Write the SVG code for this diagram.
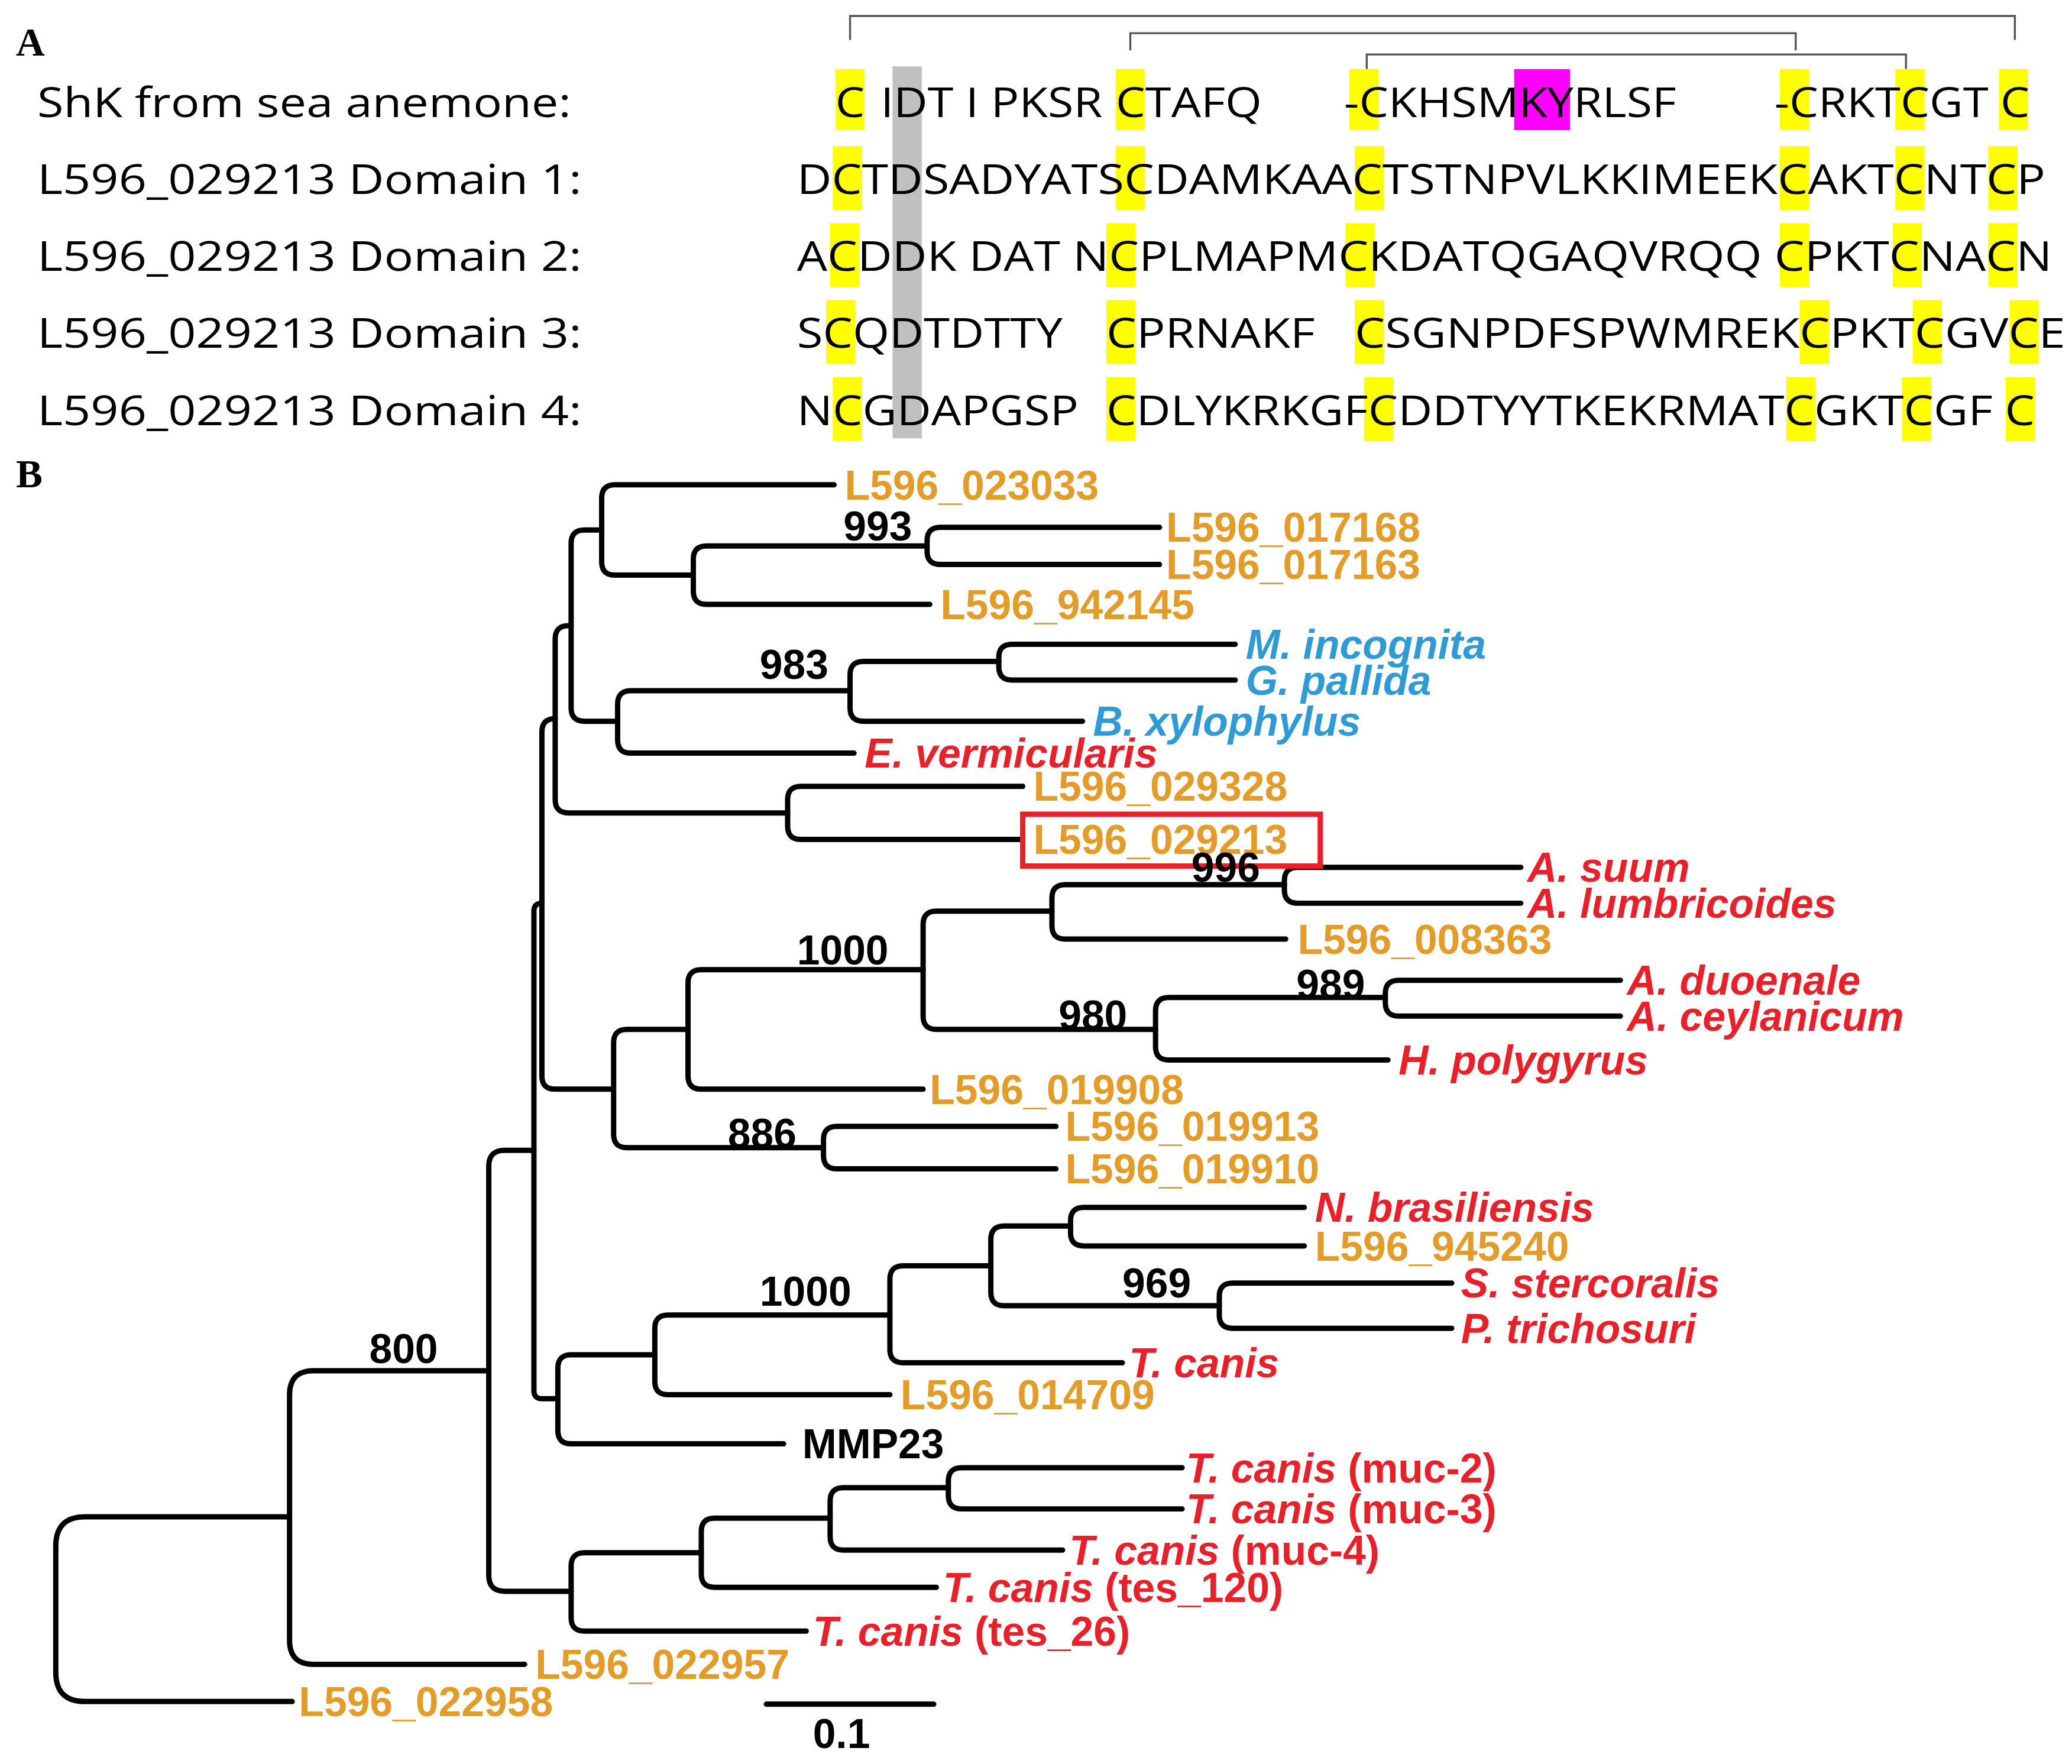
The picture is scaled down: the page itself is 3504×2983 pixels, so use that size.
<svg xmlns="http://www.w3.org/2000/svg" width="3504" height="2983" viewBox="0 0 3504 2983">
<style>
.lab{font-family:"Open Sans","Liberation Sans",sans-serif;font-size:31px;fill:#000}
.seq{font-family:"Open Sans","Liberation Sans",sans-serif;font-size:31px;fill:#000}
.pl{font-family:"Liberation Serif",serif;font-weight:bold;font-size:30px}
.t{font-family:"Liberation Sans",Arial,sans-serif;font-weight:bold;font-size:31px}
.o{fill:#E39B2A}.b{fill:#2E9BD6}.r{fill:#E8202A}.k{fill:#000}
.i{font-style:italic}
.br{fill:none;stroke:#000;stroke-width:4;stroke-linecap:round}
.y{fill:#FFFF00}
.bk{fill:none;stroke:#555;stroke-width:1.5}
</style>
<rect width="3504" height="2983" fill="#fff"/>
<g transform="scale(2.24615)">
<text class="pl" x="12" y="42">A</text>
<text class="pl" x="12" y="367">B</text>
<g id="brackets" class="bk">
<path d="M640,30 V12 H1517 V30"/>
<path d="M851,38 V25 H1352 V38"/>
<path d="M1029,52 V41 H1435 V52"/>
</g>
<g id="highlights">
<rect x="672" y="50" width="22" height="280" fill="#C0C0C0"/>
<rect x="1140" y="52" width="42" height="46" fill="#FF00FF"/>
<g class="y">
<rect x="629" y="52" width="22" height="46"/><rect x="840" y="52" width="22" height="46"/><rect x="1016" y="52" width="22" height="46"/><rect x="1340" y="52" width="22" height="46"/><rect x="1427" y="52" width="22" height="46"/><rect x="1505" y="52" width="22" height="46"/>
<rect x="627" y="110" width="22" height="48"/><rect x="840" y="110" width="22" height="48"/><rect x="1020" y="110" width="22" height="48"/><rect x="1340" y="110" width="22" height="48"/><rect x="1427" y="110" width="22" height="48"/><rect x="1497" y="110" width="22" height="48"/>
<rect x="625" y="168" width="22" height="48"/><rect x="833" y="168" width="22" height="48"/><rect x="1013" y="168" width="22" height="48"/><rect x="1340" y="168" width="22" height="48"/><rect x="1425" y="168" width="22" height="48"/><rect x="1497" y="168" width="22" height="48"/>
<rect x="622" y="226" width="22" height="48"/><rect x="833" y="226" width="22" height="48"/><rect x="1020" y="226" width="22" height="48"/><rect x="1355" y="226" width="22" height="48"/><rect x="1440" y="226" width="22" height="48"/><rect x="1513" y="226" width="22" height="48"/>
<rect x="627" y="284" width="22" height="48"/><rect x="833" y="284" width="22" height="48"/><rect x="1027" y="284" width="22" height="48"/><rect x="1345" y="284" width="22" height="48"/><rect x="1432" y="284" width="22" height="48"/><rect x="1510" y="284" width="22" height="48"/>
</g>
</g>
<g id="alignment">
<text class="lab" x="28" y="88" textLength="402" lengthAdjust="spacingAndGlyphs">ShK from sea anemone:</text>
<text class="lab" x="28" y="146" textLength="410" lengthAdjust="spacingAndGlyphs">L596_029213 Domain 1:</text>
<text class="lab" x="28" y="204" textLength="410" lengthAdjust="spacingAndGlyphs">L596_029213 Domain 2:</text>
<text class="lab" x="28" y="262" textLength="410" lengthAdjust="spacingAndGlyphs">L596_029213 Domain 3:</text>
<text class="lab" x="28" y="320" textLength="410" lengthAdjust="spacingAndGlyphs">L596_029213 Domain 4:</text>
<text class="seq" x="629" y="88" textLength="22" lengthAdjust="spacingAndGlyphs">C</text>
<text class="seq" x="663" y="88" textLength="167" lengthAdjust="spacingAndGlyphs">IDT I PKSR</text>
<text class="seq" x="840" y="88" textLength="110" lengthAdjust="spacingAndGlyphs">CTAFQ</text>
<text class="seq" x="1012" y="88" textLength="250" lengthAdjust="spacingAndGlyphs">-CKHSMKYRLSF</text>
<text class="seq" x="1336" y="88" textLength="192" lengthAdjust="spacingAndGlyphs">-CRKTCGT C</text>
<text class="seq" x="600" y="146" textLength="940" lengthAdjust="spacingAndGlyphs">DCTDSADYATSCDAMKAACTSTNPVLKKIMEEKCAKTCNTCP</text>
<text class="seq" x="600" y="204" textLength="945" lengthAdjust="spacingAndGlyphs">ACDDK DAT NCPLMAPMCKDATQGAQVRQQ CPKTCNACN</text>
<text class="seq" x="600" y="262" textLength="200" lengthAdjust="spacingAndGlyphs">SCQDTDTTY</text>
<text class="seq" x="833" y="262" textLength="157" lengthAdjust="spacingAndGlyphs">CPRNAKF</text>
<text class="seq" x="1020" y="262" textLength="535" lengthAdjust="spacingAndGlyphs">CSGNPDFSPWMREKCPKTCGVCE</text>
<text class="seq" x="600" y="320" textLength="212" lengthAdjust="spacingAndGlyphs">NCGDAPGSP</text>
<text class="seq" x="833" y="320" textLength="699" lengthAdjust="spacingAndGlyphs">CDLYKRKGFCDDTYYTKEKRMATCGKTCGF C</text>
</g>
<g id="connectors" class="br">
<path d="M873,397 H708 Q698,397 698,407 V415 Q698,425 708,425 H873"/>
<path d="M698,411 H532 Q522,411 522,421 V445 Q522,455 532,455 H700"/>
<path d="M628,365 H463 Q453,365 453,375 V423 Q453,433 463,433 H522"/>
<path d="M930,485 H762 Q752,485 752,495 V502 Q752,512 762,512 H930"/>
<path d="M752,498 H650 Q640,498 640,508 V533 Q640,543 650,543 H815"/>
<path d="M640,520 H475 Q465,520 465,530 V557 Q465,567 475,567 H643"/>
<path d="M453,399 H440 Q430,399 430,409 V533 Q430,543 440,543 H465"/>
<path d="M770,592 H603 Q593,592 593,602 V622 Q593,632 603,632 H770"/>
<path d="M430,471 H428 Q418,471 418,481 V602 Q418,612 428,612 H593"/>
<path d="M1145,653 H977 Q967,653 967,663 V670 Q967,680 977,680 H1145"/>
<path d="M967,666 H802 Q792,666 792,676 V697 Q792,707 802,707 H968"/>
<path d="M1220,738 H1053 Q1043,738 1043,748 V755 Q1043,765 1053,765 H1220"/>
<path d="M1043,751 H880 Q870,751 870,761 V788 Q870,798 880,798 H1045"/>
<path d="M792,686 H705 Q695,686 695,696 V765 Q695,775 705,775 H870"/>
<path d="M695,730 H528 Q518,730 518,740 V810 Q518,820 528,820 H695"/>
<path d="M795,848 H630 Q620,848 620,858 V870 Q620,880 630,880 H795"/>
<path d="M518,775 H472 Q462,775 462,785 V854 Q462,864 472,864 H620"/>
<path d="M418,541 Q408,541 408,551 V810 Q408,820 418,820 H462"/>
<path d="M982,909 H816 Q806,909 806,919 V928 Q806,938 816,938 H982"/>
<path d="M1093,966 H928 Q918,966 918,976 V990 Q918,1000 928,1000 H1093"/>
<path d="M806,923 H756 Q746,923 746,933 V973 Q746,983 756,983 H918"/>
<path d="M746,953 H680 Q670,953 670,963 V1016 Q670,1026 680,1026 H845"/>
<path d="M670,990 H503 Q493,990 493,1000 V1040 Q493,1050 503,1050 H670"/>
<path d="M493,1020 H430 Q420,1020 420,1030 V1077 Q420,1087 430,1087 H590"/>
<path d="M408,680 Q402,680 402,686 V1047 Q402,1053 408,1053 H420"/>
<path d="M890,1105 H724 Q714,1105 714,1115 V1126 Q714,1136 724,1136 H890"/>
<path d="M714,1120 H635 Q625,1120 625,1130 V1157 Q625,1167 635,1167 H800"/>
<path d="M625,1143 H538 Q528,1143 528,1153 V1185 Q528,1195 538,1195 H705"/>
<path d="M528,1169 H440 Q430,1169 430,1179 V1218 Q430,1228 440,1228 H607"/>
<path d="M402,866 H380 Q368,866 368,878 V1186 Q368,1198 380,1198 H430"/>
<path d="M368,1032 H236 Q218,1032 218,1050 V1235 Q218,1253 236,1253 H395"/>
<path d="M218,1142 H64 Q42,1142 42,1164 V1259 Q42,1281 64,1281 H220"/>
<path d="M577,1283 H703"/>
</g>
<g id="labels" class="t">
<g id="n1"><text class="o" x="636" y="376">L596_023033</text></g>
<g id="n2"><text class="o" x="878" y="408">L596_017168</text></g>
<g id="n3"><text class="o" x="878" y="436">L596_017163</text></g>
<g id="n4"><text class="o" x="708" y="466">L596_942145</text></g>
<g id="n5"><text class="b i" x="938" y="496">M. incognita</text></g>
<g id="n6"><text class="b i" x="938" y="523">G. pallida</text></g>
<g id="n7"><text class="b i" x="823" y="554">B. xylophylus</text></g>
<g id="n8"><text class="r i" x="651" y="578">E. vermicularis</text></g>
<g id="n9"><text class="o" x="778" y="603">L596_029328</text></g>
<g id="n10"><rect x="770" y="613" width="224" height="39" fill="none" stroke="#E8202A" stroke-width="4"/><text class="o" x="778" y="643">L596_029213</text></g>
<g id="n11"><text class="r i" x="1150" y="664">A. suum</text></g>
<g id="n12"><text class="r i" x="1150" y="691">A. lumbricoides</text></g>
<g id="n13"><text class="o" x="977" y="718">L596_008363</text></g>
<g id="n14"><text class="r i" x="1225" y="749">A. duoenale</text></g>
<g id="n15"><text class="r i" x="1225" y="776">A. ceylanicum</text></g>
<g id="n16"><text class="r i" x="1053" y="809">H. polygyrus</text></g>
<g id="n17"><text class="o" x="700" y="831">L596_019908</text></g>
<g id="n18"><text class="o" x="802" y="859">L596_019913</text></g>
<g id="n19"><text class="o" x="802" y="891">L596_019910</text></g>
<g id="n20"><text class="r i" x="990" y="920">N. brasiliensis</text></g>
<g id="n21"><text class="o" x="990" y="949">L596_945240</text></g>
<g id="n22"><text class="r i" x="1100" y="977">S. stercoralis</text></g>
<g id="n23"><text class="r i" x="1100" y="1011">P. trichosuri</text></g>
<g id="n24"><text class="r i" x="850" y="1037">T. canis</text></g>
<g id="n25"><text class="o" x="678" y="1061">L596_014709</text></g>
<g id="n26"><text class="k" x="604" y="1098">MMP23</text></g>
<g id="n27"><text class="r" x="893" y="1116"><tspan class="i">T. canis</tspan> (muc-2)</text></g>
<g id="n28"><text class="r" x="893" y="1147"><tspan class="i">T. canis</tspan> (muc-3)</text></g>
<g id="n29"><text class="r" x="805" y="1178"><tspan class="i">T. canis</tspan> (muc-4)</text></g>
<g id="n30"><text class="r" x="710" y="1206"><tspan class="i">T. canis</tspan> (tes_120)</text></g>
<g id="n31"><text class="r" x="612" y="1239"><tspan class="i">T. canis</tspan> (tes_26)</text></g>
<g id="n32"><text class="o" x="403" y="1264">L596_022957</text></g>
<g id="n33"><text class="o" x="225" y="1292">L596_022958</text></g>
<g id="support" class="k">
<text x="635" y="407">993</text>
<text x="572" y="511">983</text>
<text x="897" y="664">996</text>
<text x="600" y="726">1000</text>
<text x="976" y="752">989</text>
<text x="797" y="775">980</text>
<text x="548" y="864">886</text>
<text x="572" y="983">1000</text>
<text x="845" y="977">969</text>
<text x="278" y="1026">800</text>
<text x="612" y="1316">0.1</text>
</g>
</g>
</g>
</svg>
